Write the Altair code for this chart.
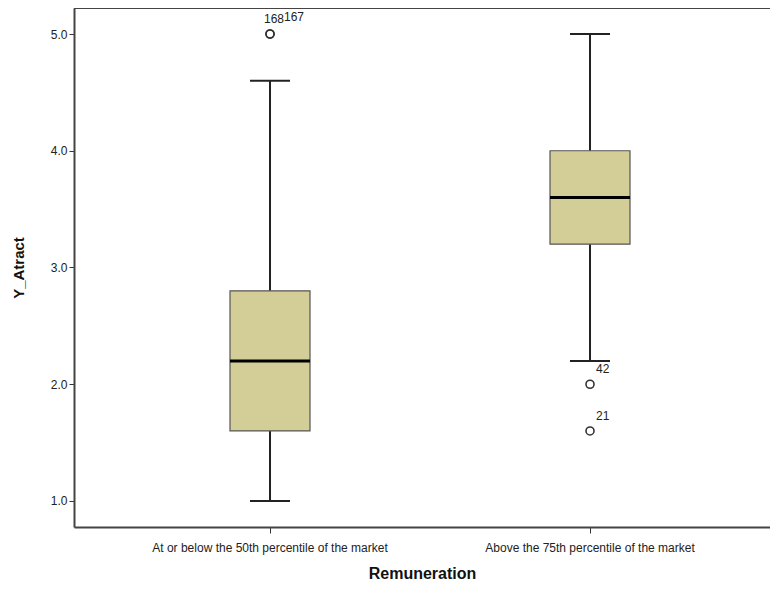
import altair as alt
import pandas as pd

categories = ["At or below the 50th percentile of the market", "Above the 75th percentile of the market"]
whisker_low = [1.0, 2.2]
q1 = [1.6, 3.2]
median = [2.2, 3.6]
q3 = [2.8, 4.0]
whisker_high = [4.6, 5.0]

outlier_cat = [categories[0], categories[0], categories[1], categories[1]]
outlier_val = [5.0, 5.0, 2.0, 1.6]
outlier_lab = ["168", "167", "42", "21"]

boxes = pd.DataFrame({"cat": categories, "lo": whisker_low, "q1": q1, "med": median,
                      "q3": q3, "hi": whisker_high})
outs = pd.DataFrame({"cat": outlier_cat, "val": outlier_val, "lab": outlier_lab})

W, H = 696, 519
FONT = "Liberation Sans"

xenc = alt.X("cat:N", sort=categories, title="Remuneration",
             scale=alt.Scale(type="band", paddingInner=0, paddingOuter=0.0875, align=0.643),
             axis=alt.Axis(labelAngle=0, tickSize=6, labelPadding=9, titlePadding=12, labelLimit=0,
                           domainColor="#444", domainWidth=2, tickColor="#333",
                           labelFontSize=12, labelColor="#222", titleFontSize=16,
                           titleFontWeight="bold", titleColor="#111", labelFont=FONT, titleFont=FONT))
yscale = alt.Scale(domain=[0.7773, 5.2227], nice=False, zero=False)
yaxis = alt.Axis(values=[1, 2, 3, 4, 5], format=".1f", tickSize=5, labelPadding=2, grid=False,
                 domainColor="#444", domainWidth=2, tickColor="#333", labelFontSize=12,
                 labelColor="#222", titleFontSize=15, titleFontWeight="bold", titleColor="#111",
                 titlePadding=24, labelFont=FONT, titleFont=FONT)

base = alt.Chart(boxes)
whisk = base.mark_rule(color="#222", strokeWidth=2).encode(
    x=xenc, y=alt.Y("lo:Q", scale=yscale, axis=yaxis, title="Y_Atract"), y2="hi:Q")
caps_lo = base.mark_tick(color="#222", size=40, thickness=2, opacity=1).encode(
    x=xenc, y=alt.Y("lo:Q", scale=yscale))
caps_hi = base.mark_tick(color="#222", size=40, thickness=2, opacity=1).encode(
    x=xenc, y=alt.Y("hi:Q", scale=yscale))
box = base.mark_bar(size=80, fill="#D3CE97", stroke="#555", strokeWidth=1.2, opacity=1).encode(
    x=xenc, y=alt.Y("q1:Q", scale=yscale), y2="q3:Q")
med = base.mark_tick(color="#000", size=80, thickness=3, opacity=1).encode(
    x=xenc, y=alt.Y("med:Q", scale=yscale))

ob = alt.Chart(outs)
pts = ob.mark_point(shape="circle", filled=False, color="#333", size=64, strokeWidth=1.6, opacity=1).encode(
    x=xenc, y=alt.Y("val:Q", scale=yscale))
tstyle = dict(font=FONT, fontSize=12, color="#222", align="left", baseline="middle")
lab168 = ob.transform_filter(alt.datum.lab == "168").mark_text(dx=-6, dy=-15, **tstyle).encode(
    x=xenc, y=alt.Y("val:Q", scale=yscale), text="lab:N")
lab167 = ob.transform_filter(alt.datum.lab == "167").mark_text(dx=14, dy=-17, **tstyle).encode(
    x=xenc, y=alt.Y("val:Q", scale=yscale), text="lab:N")
labR = ob.transform_filter((alt.datum.lab == "42") | (alt.datum.lab == "21")).mark_text(
    dx=6, dy=-15, **tstyle).encode(x=xenc, y=alt.Y("val:Q", scale=yscale), text="lab:N")

topline = alt.Chart(boxes).mark_rule(color="#444", strokeWidth=2).encode(
    x=alt.value(0), x2=alt.value(W), y=alt.value(0))

chart = alt.layer(whisk, caps_lo, caps_hi, box, med, pts, lab168, lab167, labR, topline).properties(
    width=W, height=H, autosize="none",
    padding={"left": 66, "top": 0, "right": 0, "bottom": 55},
).configure_view(stroke=None, fill="#F0F0F0").configure(background="white")

chart.save("out.html", embed_options={"renderer": "svg", "actions": False})
